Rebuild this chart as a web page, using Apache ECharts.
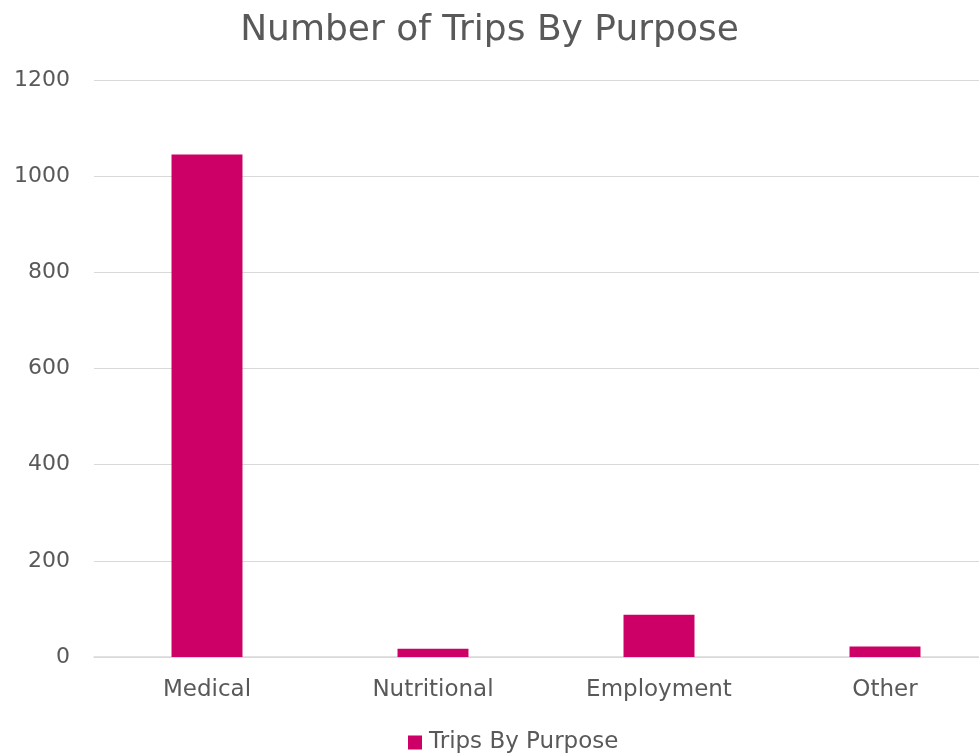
<!DOCTYPE html>
<html>
<head>
<meta charset="utf-8">
<script src="https://cdn.jsdelivr.net/npm/echarts@6/dist/echarts.min.js"></script>
<style>
  html, body { margin: 0; padding: 0; background: #fff; }
  #chart { width: 979px; height: 756px; }
</style>
</head>
<body>
<div id="chart"></div>
<script>
var categories = ["Medical", "Nutritional", "Employment", "Other"];
var trips = [1045, 17, 88, 22];
var seriesName = "Trips By Purpose";

var myChart = echarts.init(document.getElementById("chart"));
myChart.setOption({
  textStyle: { fontFamily: "DejaVu Sans" },
  title: {
    text: "Number of Trips By Purpose",
    left: "center",
    top: 8,
    textStyle: { fontSize: 36, fontWeight: "normal", color: "#595959", fontFamily: "DejaVu Sans" }
  },
  legend: {
    top: 726,
    left: 403,
    itemWidth: 14,
    itemHeight: 14,
    icon: "rect",
    textStyle: { fontSize: 23, color: "#595959", padding: [0, 0, 0, 2] },
    data: [seriesName]
  },
  grid: { left: 94, width: 904, top: 80, bottom: 99, outerBoundsMode: "none", containLabel: false },
  xAxis: {
    type: "category",
    data: categories,
    axisTick: { show: false },
    axisLine: { lineStyle: { color: "#d9d9d9", width: 1.5 } },
    axisLabel: { fontSize: 23, color: "#595959", margin: 22 }
  },
  yAxis: {
    type: "value",
    min: 0,
    max: 1200,
    interval: 200,
    axisLine: { show: false },
    axisTick: { show: false },
    splitLine: { lineStyle: { color: "#d9d9d9", width: 1 } },
    axisLabel: {
      fontSize: 22,
      color: "#595959",
      margin: 24,
      formatter: function (v) { return String(v); }
    }
  },
  series: [
    {
      name: seriesName,
      type: "bar",
      barWidth: "31.4%",
      itemStyle: { color: "#CC0066" },
      data: trips
    }
  ]
});
</script>
</body>
</html>
